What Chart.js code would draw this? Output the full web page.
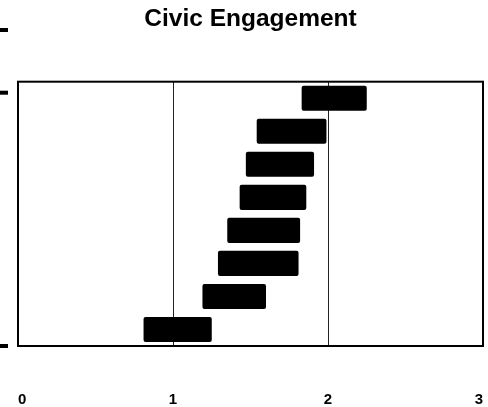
<!DOCTYPE html>
<html>
<head>
<meta charset="utf-8">
<script src="https://cdn.jsdelivr.net/npm/chart.js@4.4.1/dist/chart.umd.min.js"></script>
<style>
  html, body { margin: 0; padding: 0; background: #fff; }
  #wrap { width: 488px; height: 407px; }
</style>
</head>
<body>
<div id="wrap"><canvas id="chart"></canvas></div>
<script>
// --- data ---
const categories = ['Group 1', 'Group 2', 'Group 3', 'Group 4', 'Group 5', 'Group 6', 'Group 7', 'Group 8'];
const rangeStart = [1.83, 1.54, 1.47, 1.43, 1.35, 1.29, 1.19, 0.81];
const rangeEnd = [2.25, 1.99, 1.91, 1.86, 1.82, 1.81, 1.60, 1.25];
const xTickLabels = ['0', '1', '2', '3'];

const FONT = "'Liberation Sans', Arial, Helvetica, sans-serif";

// frame round the plot area + the small stray marks on the left edge
const framePlugin = {
    id: 'frame',
    afterDraw(chart) {
        const { ctx, chartArea } = chart;
        ctx.save();
        ctx.strokeStyle = '#000';
        ctx.lineWidth = 2;
        ctx.strokeRect(chartArea.left, chartArea.top, chartArea.right - chartArea.left, chartArea.bottom - chartArea.top);
        ctx.fillStyle = '#000';
        [30, chartArea.top + 11, chartArea.bottom].forEach(y => {
            ctx.fillRect(0, y - 2, 8, 4);
        });
        ctx.restore();
    }
};

new Chart(document.getElementById('chart'), {
    type: 'bar',
    data: {
        labels: categories,
        datasets: [{
            label: 'Civic Engagement',
            data: rangeStart.map((s, i) => [s, rangeEnd[i]]),
            backgroundColor: '#000',
            borderWidth: 0,
            borderRadius: 2,
            borderSkipped: false,
            categoryPercentage: 1,
            barPercentage: 0.76
        }]
    },
    options: {
        indexAxis: 'y',
        responsive: true,
        maintainAspectRatio: false,
        animation: false,
        layout: { padding: { left: 18, right: 5, top: 0, bottom: 0 } },
        scales: {
            x: {
                type: 'linear',
                min: 0,
                max: 3,
                afterBuildTicks: axis => {
                    axis.ticks = xTickLabels.map(t => ({ value: Number(t) }));
                },
                ticks: {
                    callback: (v, i) => xTickLabels[i],
                    align: 'inner',
                    padding: 0,
                    color: '#000',
                    font: { family: FONT, size: 15, weight: 'bold', lineHeight: 1 }
                },
                // invisible tick marks push the labels down (ticks.padding would also pad left/right)
                grid: { color: '#222', lineWidth: 1, drawTicks: true, tickLength: 46, tickColor: 'rgba(0,0,0,0)' },
                border: { display: false }
            },
            y: { display: false }
        },
        plugins: {
            legend: { display: false },
            tooltip: { enabled: false },
            title: {
                display: true,
                text: 'Civic Engagement',
                color: '#000',
                font: { family: FONT, size: 24.5, weight: 'bold', lineHeight: 1.2 },
                padding: { top: 5, bottom: 47.3 }
            }
        }
    },
    plugins: [framePlugin]
});
</script>
</body>
</html>
